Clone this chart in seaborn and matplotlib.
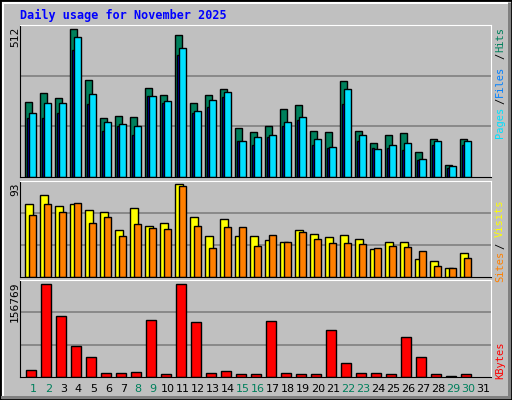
import matplotlib
matplotlib.use("Agg")
import matplotlib.pyplot as plt
import seaborn as sns
import numpy as np
from matplotlib.patches import Rectangle

sns.set_style("white")
plt.rcParams['font.family'] = ['DejaVu Sans Mono', 'DejaVu Sans']

days = list(range(1, 31))
hits = [258,290,272,512,335,203,210,206,307,283,491,255,283,303,171,154,175,234,248,158,154,331,158,119,147,151,88,130,43,130]
files = [220,255,255,484,286,189,185,175,279,262,446,227,265,293,126,137,144,192,206,130,105,303,144,98,112,119,64,126,39,126]
pages = [203,203,223,439,251,158,178,144,279,255,421,220,241,276,123,112,137,175,196,109,102,251,126,102,102,95,60,112,32,109]
sites = [73,82,71,73,67,65,47,69,51,54,93,60,41,58,41,41,37,35,47,43,40,42,38,28,35,35,18,16,9,24]
visits = [62,73,65,74,54,60,41,53,49,48,91,51,29,50,50,31,42,35,45,38,34,34,33,29,31,30,26,11,9,19]
kbytes = [12500,156769,103000,52000,33000,7400,7400,9000,96000,5700,156769,93000,7400,10800,5700,5700,95000,7400,5700,5700,79000,22800,7400,7400,5700,67000,33000,5700,1200,5700]
weekend = {1, 2, 8, 9, 15, 16, 22, 23, 29, 30}

W, H = 512, 400
fig = plt.figure(figsize=(5.12, 4.0), dpi=100)
fig.patch.set_facecolor('#C0C0C0')
fig.add_artist(Rectangle((0, 0), 1, 1, transform=fig.transFigure, fill=False, ec='black', lw=2))
fig.add_artist(Rectangle((1/W, 1/H), 1 - 4/W, 3/H, transform=fig.transFigure, color='#808080', lw=0))
fig.add_artist(Rectangle((1 - 4/W, 1/H), 3/W, 1 - 4/H, transform=fig.transFigure, color='#808080', lw=0))
fig.add_artist(Rectangle((2/W, 1 - 4/H), 1 - 6/W, 2/H, transform=fig.transFigure, color='white', lw=0))
fig.add_artist(Rectangle((2/W, 4/H), 2/W, 1 - 8/H, transform=fig.transFigure, color='white', lw=0))

def ax_px(x0, y0, x1, y1):
    return fig.add_axes([x0 / W, 1 - y1 / H, (x1 - x0) / W, (y1 - y0) / H])

L, R = 20, 491
panels = [(25, 177), (181, 277), (280, 377)]
xl = (0.11, 31.51)

def setup(ax, top, ptop, pbot, maxpix):
    ax.set_facecolor('#C0C0C0')
    ylim = top * (pbot - ptop) / (pbot - maxpix)
    ax.set_ylim(0, ylim)
    ax.set_xlim(*xl)
    for f in (1/3, 2/3):
        ax.axhline(ylim * f, color='#808080', lw=1.2, zorder=0)
    ax.set_xticks([]); ax.set_yticks([])
    ax.spines['left'].set_color('black')
    ax.spines['bottom'].set_color('black')
    ax.spines['top'].set_color('white')
    ax.spines['right'].set_color('white')

x = np.array(days, dtype=float)
ek = dict(edgecolor='black', linewidth=1)

ax1 = ax_px(L, panels[0][0], R, panels[0][1])
setup(ax1, 512, 25, 177, 29)
ax1.bar(x - 0.53, hits, width=0.47, align='edge', color='#00805C', **ek)
ax1.bar(x - 0.44, pages, width=0.17, align='edge', color='#0000FF', **ek)
ax1.bar(x - 0.27, files, width=0.47, align='edge', color='#00E0FF', **ek)

ax2 = ax_px(L, panels[1][0], R, panels[1][1])
setup(ax2, 93, 181, 277, 184)
ax2.bar(x - 0.53, sites, width=0.53, align='edge', color='#FFFF00', **ek)
ax2.bar(x - 0.27, visits, width=0.47, align='edge', color='#FF8000', **ek)

ax3 = ax_px(L, panels[2][0], R, panels[2][1])
setup(ax3, 156769, 280, 377, 284)
ax3.bar(x - 0.47, kbytes, width=0.67, align='edge', color='#FF0000', **ek)

for d in range(1, 32):
    xp = 33.3 + (d - 1) * 15
    fig.text(xp / W, 1 - 389 / H, str(d), ha='center', va='center', fontsize=8,
             color='#00805C' if d in weekend else 'black', family='DejaVu Sans')

fig.text(20 / W, 1 - 15 / H, 'Daily usage for November 2025', color='#0000FF',
         fontsize=8.5, fontweight='bold', ha='left', va='center')

for txt, yp in [('512', 27), ('93', 182), ('156769', 282)]:
    fig.text(15 / W, 1 - yp / H, txt, rotation=90, ha='center', va='top', fontsize=8, color='black')

def rlab(items):
    for txt, yc, col in items:
        fig.text(500 / W, 1 - yc / H, txt, rotation=90, ha='center', va='center', fontsize=7.5, color=col)

rlab([('Hits', 39, '#00805C'), ('/', 56, 'black'), ('Files', 81, '#0080FF'),
      ('/', 101, 'black'), ('Pages', 122, '#00E0FF'),
      ('Visits', 218, '#FFFF00'), ('/', 246, 'black'), ('Sites', 266, '#FF8000'),
      ('KBytes', 360, '#FF0000')])

fig.savefig('out.png', dpi=100, facecolor=fig.get_facecolor())
